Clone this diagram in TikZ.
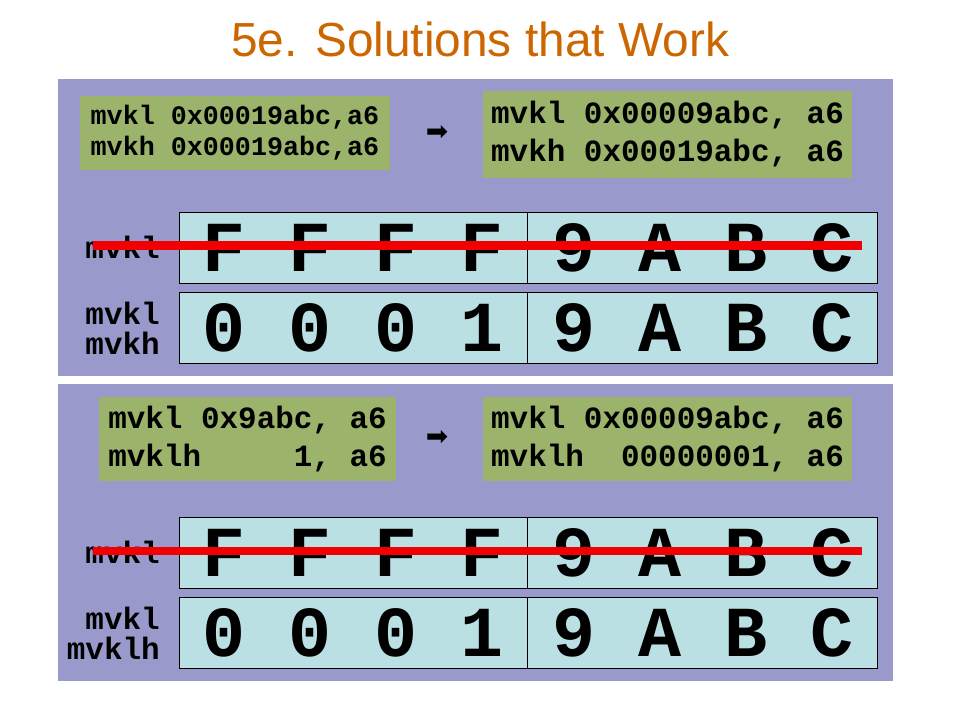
\documentclass[tikz,border=0pt]{standalone}
\usepackage{fontspec}
\setmainfont{Liberation Sans}
\setmonofont{Liberation Mono}
\newfontfamily\arrowfont{DejaVu Sans}
\usepackage{xcolor}
\usepackage{tikz}
\usetikzlibrary{positioning}
\definecolor{titleorange}{RGB}{204, 102, 0}
\definecolor{panelpurple}{RGB}{153, 153, 204}
\definecolor{codegreen}{RGB}{155, 179, 106}
\definecolor{reglightblue}{RGB}{187, 224, 227}
\definecolor{strikered}{RGB}{240, 0, 0}

\begin{document}
\begin{tikzpicture}[
    x=0.025cm, y=-0.025cm,
    code/.style={rectangle, fill=codegreen, inner sep=0pt, align=left, font=\ttfamily\bfseries\fontsize{22}{27}\selectfont},
    smallcode/.style={code, font=\ttfamily\bfseries\fontsize{19}{22}\selectfont},
    half/.style={rectangle, draw=black, fill=reglightblue, minimum height=1.775cm, inner sep=0pt, font=\ttfamily\bfseries\fontsize{51}{51}\selectfont},
    reglabel/.style={anchor=east, align=right, inner sep=0pt, font=\ttfamily\bfseries\fontsize{22}{21.5}\selectfont},
    goesto/.style={inner sep=0pt, font=\arrowfont\fontsize{19}{19}\selectfont},
    strike/.style={draw=strikered, line width=6.4pt}
]
\useasboundingbox (0,0) rectangle (960,720);

% Title
\node[anchor=base, text=titleorange, font=\fontsize{34}{34}\selectfont] (title) at (480,57) {5e. Solutions that Work};

% Panels
\fill[panelpurple] (58,79) rectangle (893,376);
\fill[panelpurple] (58,384) rectangle (893,681);

% Upper panel: mvkl / mvkh
\node[smallcode, minimum width=7.75cm, minimum height=1.85cm] (srcA) at (235,133) {mvkl 0x00019abc,a6\\mvkh 0x00019abc,a6};
\node[goesto] (arrA) at (437,133) {➡};
\node[code, minimum width=9.225cm, minimum height=2.175cm] (dstA) at (667.5,134.5) {mvkl 0x00009abc, a6\\mvkh 0x00019abc, a6};

\node[half, minimum width=8.7cm] (hiA1) at (353,247.5) {F F F F};
\node[half, minimum width=8.75cm, right=0pt of hiA1] (loA1) {9 A B C};
\node[half, minimum width=8.7cm, below=0.225cm of hiA1] (hiA2) {0 0 0 1};
\node[half, minimum width=8.75cm, right=0pt of hiA2] (loA2) {9 A B C};

\node[reglabel] (lblA1) at (160,247) {mvkl};
\node[reglabel] (lblA2) at (160,328) {mvkl\\mvkh};

\coordinate (strikeA1) at (93,246);
\coordinate (strikeA2) at (862,246);
\draw[strike] (strikeA1) -- (strikeA2);

% Lower panel: mvkl / mvklh
\node[code, minimum width=7.425cm, minimum height=2.1cm] (srcB) at (247.5,439) {mvkl 0x9abc, a6\\mvklh\ \ \ \ \ 1, a6};
\node[goesto] (arrB) at (437,438) {➡};
\node[code, minimum width=9.225cm, minimum height=2.1cm] (dstB) at (667.5,439) {mvkl 0x00009abc, a6\\mvklh\ \ 00000001, a6};

\node[half, minimum width=8.7cm] (hiB1) at (353,552.5) {F F F F};
\node[half, minimum width=8.75cm, right=0pt of hiB1] (loB1) {9 A B C};
\node[half, minimum width=8.7cm, below=0.225cm of hiB1] (hiB2) {0 0 0 1};
\node[half, minimum width=8.75cm, right=0pt of hiB2] (loB2) {9 A B C};

\node[reglabel] (lblB1) at (160,552) {mvkl};
\node[reglabel] (lblB2) at (160,633) {mvkl\\mvklh};

\coordinate (strikeB1) at (93,551);
\coordinate (strikeB2) at (862,551);
\draw[strike] (strikeB1) -- (strikeB2);

\end{tikzpicture}
\end{document}
